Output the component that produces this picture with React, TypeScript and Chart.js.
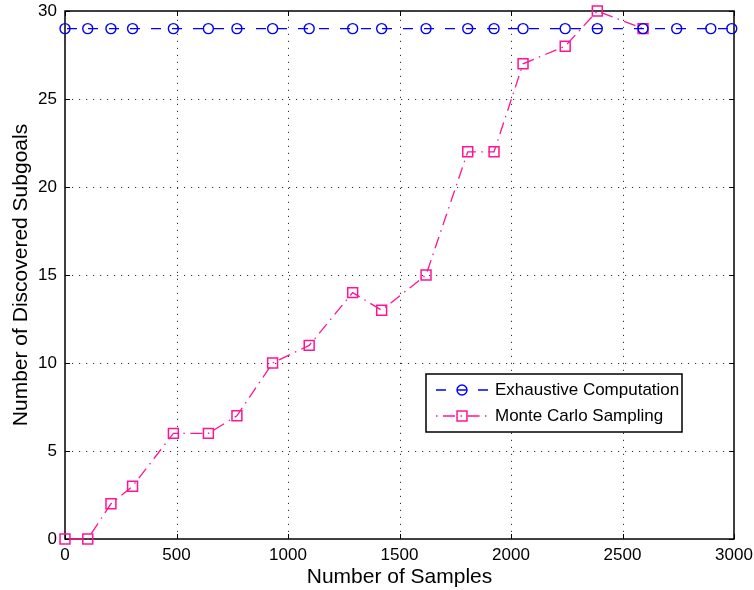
import { useEffect, useRef } from "react";
import { Chart, registerables } from "chart.js";

Chart.register(...registerables);

// Sample counts at which subgoal discovery was evaluated
const sampleCounts = [0, 102, 206, 303, 486, 643, 771, 931, 1095, 1290, 1420, 1619, 1806, 1924, 2054, 2243, 2387, 2592, 2743, 2896, 2990];
// Exhaustive computation always finds every subgoal
const exhaustiveSubgoals = [29, 29, 29, 29, 29, 29, 29, 29, 29, 29, 29, 29, 29, 29, 29, 29, 29, 29, 29, 29, 29];
// Monte Carlo sampling, evaluated at the first 18 sample counts
const monteCarloSubgoals = [0, 0, 2, 3, 6, 6, 7, 10, 11, 14, 13, 15, 22, 22, 27, 28, 30, 29];

const xTicks = [0, 500, 1000, 1500, 2000, 2500, 3000];
const yTicks = [0, 5, 10, 15, 20, 25, 30];

const seriesLabels = ["Exhaustive Computation", "Monte Carlo Sampling"];

const BLUE = "#0000FF";
const PINK = "#FF1493";
const FONT = "'Liberation Sans', Arial, Helvetica, sans-serif";

// Dotted grid plus the boxed axes with inward tick marks
const framePlugin = {
  id: "frame",
  beforeDatasetsDraw(chart: any) {
    const { ctx, chartArea, scales } = chart;
    const { left, right, top, bottom } = chartArea;
    ctx.save();
    // dotted grid
    ctx.strokeStyle = "rgba(0,0,0,0.8)";
    ctx.lineWidth = 1;
    ctx.setLineDash([1.2, 5.8]);
    for (const v of xTicks) {
      if (v === xTicks[0] || v === xTicks[xTicks.length - 1]) continue;
      const px = Math.round(scales.x.getPixelForValue(v)) + 0.5;
      ctx.beginPath();
      ctx.moveTo(px, bottom);
      ctx.lineTo(px, top);
      ctx.stroke();
    }
    for (const v of yTicks) {
      if (v === yTicks[0] || v === yTicks[yTicks.length - 1]) continue;
      const py = Math.round(scales.y.getPixelForValue(v)) + 0.5;
      ctx.beginPath();
      ctx.moveTo(left, py);
      ctx.lineTo(right, py);
      ctx.stroke();
    }
    ctx.setLineDash([]);
    // inward ticks
    ctx.strokeStyle = "#000";
    ctx.lineWidth = 1;
    const tl = 5;
    for (const v of xTicks) {
      const px = Math.round(scales.x.getPixelForValue(v)) + 0.5;
      ctx.beginPath();
      ctx.moveTo(px, bottom);
      ctx.lineTo(px, bottom - tl);
      ctx.moveTo(px, top);
      ctx.lineTo(px, top + tl);
      ctx.stroke();
    }
    for (const v of yTicks) {
      const py = Math.round(scales.y.getPixelForValue(v)) + 0.5;
      ctx.beginPath();
      ctx.moveTo(left, py);
      ctx.lineTo(left + tl, py);
      ctx.moveTo(right, py);
      ctx.lineTo(right - tl, py);
      ctx.stroke();
    }
    // box
    ctx.lineWidth = 1.5;
    ctx.strokeRect(left, top, right - left, bottom - top);
    ctx.restore();
  },
};

// Boxed legend inside the plot area
const legendPlugin = {
  id: "boxLegend",
  afterDraw(chart: any) {
    const { ctx, chartArea } = chart;
    const x0 = chartArea.left + 361;
    const y0 = chartArea.top + 363;
    const w = 256;
    const h = 58;
    ctx.save();
    ctx.fillStyle = "#fff";
    ctx.fillRect(x0, y0, w, h);
    ctx.strokeStyle = "#000";
    ctx.lineWidth = 1.5;
    ctx.strokeRect(x0, y0, w, h);
    const phases = [0, 17.5];
    chart.data.datasets.forEach((ds: any, i: number) => {
      const cy = y0 + 16 + i * 26;
      const sx = x0 + 10;
      const ex = x0 + 62;
      const mx = x0 + 36;
      ctx.strokeStyle = ds.borderColor;
      ctx.lineWidth = ds.borderWidth;
      ctx.setLineDash(ds.borderDash);
      ctx.lineDashOffset = phases[i];
      ctx.beginPath();
      ctx.moveTo(sx, cy);
      ctx.lineTo(ex, cy);
      ctx.stroke();
      ctx.setLineDash([]);
      ctx.lineWidth = ds.pointBorderWidth;
      ctx.beginPath();
      if (ds.pointStyle === "circle") {
        ctx.arc(mx, cy, ds.pointRadius, 0, Math.PI * 2);
      } else {
        const s = ds.pointRadius * Math.SQRT1_2;
        ctx.rect(mx - s, cy - s, 2 * s, 2 * s);
      }
      ctx.stroke();
      ctx.fillStyle = "#000";
      ctx.font = `17px ${FONT}`;
      ctx.textBaseline = "middle";
      ctx.textAlign = "left";
      ctx.fillText(ds.label, x0 + 69, cy);
    });
    ctx.restore();
  },
};

export default function App() {
  const canvasRef = useRef<HTMLCanvasElement | null>(null);

  useEffect(() => {
    const canvas = canvasRef.current;
    if (!canvas) return;
    const chart = new Chart(canvas, {
      type: "line",
      data: {
        datasets: [
          {
            label: seriesLabels[0],
            data: sampleCounts.map((x, i) => ({ x, y: exhaustiveSubgoals[i] })),
            borderColor: BLUE,
            borderWidth: 1.3,
            borderDash: [10, 11],
            borderDashOffset: 19,
            pointStyle: "circle",
            pointRadius: 5,
            pointBorderWidth: 1.4,
            pointBorderColor: BLUE,
            pointBackgroundColor: "rgba(0,0,0,0)",
            backgroundColor: "rgba(0,0,0,0)",
            tension: 0,
            clip: false as any,
          },
          {
            label: seriesLabels[1],
            data: monteCarloSubgoals.map((y, i) => ({ x: sampleCounts[i], y })),
            borderColor: PINK,
            borderWidth: 1.3,
            borderDash: [12, 5.5, 1.5, 5.5],
            borderDashOffset: 19.5,
            pointStyle: "rect",
            pointRadius: 7,
            pointBorderWidth: 1.5,
            pointBorderColor: PINK,
            pointBackgroundColor: "rgba(0,0,0,0)",
            backgroundColor: "rgba(0,0,0,0)",
            tension: 0,
            clip: false as any,
          },
        ],
      },
      options: {
        responsive: false,
        animation: false,
        layout: { padding: { left: 0, right: 20, top: 11, bottom: 0 } },
        plugins: {
          legend: { display: false },
          tooltip: { enabled: false },
        },
        scales: {
          x: {
            type: "linear",
            min: 0,
            max: 3000,
            afterBuildTicks: (s: any) => {
              s.ticks = xTicks.map((value) => ({ value }));
            },
            afterFit: (s: any) => {
              s.height = 51;
              s.paddingLeft = 0;
              s.paddingRight = 0;
            },
            ticks: {
              color: "#000",
              font: { family: FONT, size: 17 },
              padding: 6,
              maxRotation: 0,
              autoSkip: false,
              callback: (v: any) => String(v),
            },
            grid: { display: false, drawTicks: false },
            border: { display: false },
            title: {
              display: true,
              text: "Number of Samples",
              color: "#000",
              font: { family: FONT, size: 21 },
              padding: { top: 0, bottom: 0 },
            },
          },
          y: {
            type: "linear",
            min: 0,
            max: 30,
            afterBuildTicks: (s: any) => {
              s.ticks = yTicks.map((value) => ({ value }));
            },
            afterFit: (s: any) => {
              s.width = 65;
              s.paddingTop = 0;
              s.paddingBottom = 0;
            },
            ticks: {
              color: "#000",
              font: { family: FONT, size: 17 },
              padding: 8,
              autoSkip: false,
              callback: (v: any) => String(v),
            },
            grid: { display: false, drawTicks: false },
            border: { display: false },
            title: {
              display: true,
              text: "Number of Discovered Subgoals",
              color: "#000",
              font: { family: FONT, size: 21 },
              padding: { top: 9, bottom: 0 },
            },
          },
        },
      },
      plugins: [framePlugin, legendPlugin],
    });
    return () => chart.destroy();
  }, []);

  return (
    <div style={{ position: "fixed", left: 0, top: 0, width: 754, height: 590, background: "#fff" }}>
      <canvas ref={canvasRef} width={754} height={590} style={{ display: "block" }} />
    </div>
  );
}
